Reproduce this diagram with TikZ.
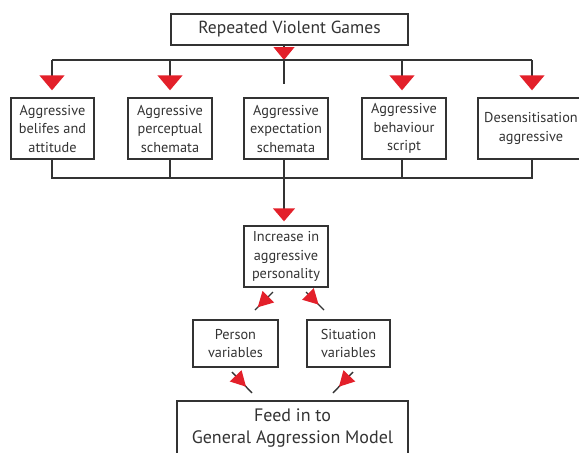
\documentclass[tikz,border=0pt]{standalone}
\usepackage{fontspec}
\setmainfont{PT Sans}
\usetikzlibrary{arrows.meta,decorations.markings,calc}
\definecolor{myred}{HTML}{E3202A}
\definecolor{ink}{HTML}{333333}
\tikzset{
  box/.style={draw=ink, line width=1.4pt, text=ink, align=center, inner sep=0pt,
    font=\fontsize{14.3}{18.5}\selectfont},
  conn/.style={draw=ink, line width=1.4pt},
  bigarr/.style={conn, -{Triangle[length=15pt,width=25pt,color=myred]}},
  smallarr/.style={conn, postaction={decorate}, decoration={markings,
    mark=at position #1 with {\arrow{Triangle[length=15pt,width=16pt,color=myred]}}}},
}
\begin{document}
\begin{tikzpicture}[x=1pt,y=-1pt]
\useasboundingbox (0,0) rectangle (579,453);
\clip (0,0) rectangle (579,453);
\node[box, minimum width=237pt, minimum height=31pt, font=\fontsize{17.5}{20}\selectfont] (top) at (289.5,29.5) {Repeated Violent Games};
\node[box, minimum width=83pt, minimum height=61pt] (b1) at (52.5,128.5) {Aggressive\\belifes and\\attitude};
\node[box, minimum width=84pt, minimum height=61pt] (b2) at (170,128.5) {Aggressive\\perceptual\\schemata};
\node[box, minimum width=84pt, minimum height=61pt] (b3) at (286,128.5) {Aggressive\\expectation\\schemata};
\node[box, minimum width=84pt, minimum height=61pt] (b4) at (404,128.5) {Aggressive\\behaviour\\script};
\node[box, minimum width=106pt, minimum height=61pt] (b5) at (531,128.5) {Desensitisation\\aggressive};
\node[box, minimum width=84pt, minimum height=61pt] (inc) at (286,256.5) {Increase in\\aggressive\\personality};
\node[box, minimum width=85pt, minimum height=47pt] (per) at (235.5,343.5) {Person\\variables};
\node[box, minimum width=83pt, minimum height=47pt] (sit) at (348.5,343.5) {Situation\\variables};
\node[box, minimum width=231pt, minimum height=54pt, font=\fontsize{18}{22}\selectfont] (feed) at (292.5,428) {Feed in to\\General Aggression Model};
% top bar
\draw[conn, -{Triangle[length=13pt,width=21pt,color=myred]}] (top.south -| 284,0) -- (284,60);
\draw[conn] (52,60) -- (532,60);
\draw[bigarr, shorten >=7pt] (52,60) -- (b1.north -| 52,0);
\draw[bigarr, shorten >=7pt] (170,60) -- (b2.north);
\draw[conn] (284,60) -- (284,84);
\draw[bigarr, shorten >=7pt] (402,60) -- (b4.north -| 402,0);
\draw[bigarr, shorten >=7pt] (532,60) -- (b5.north -| 532,0);
% bottom bar
\draw[conn] (b1.south -| 52,0) -- (52,178) -- (532,178) -- (b5.south -| 532,0);
\draw[conn] (b2.south) -- (170,178);
\draw[conn] (b4.south -| 402,0) -- (402,178);
\draw[conn, -{Triangle[length=13pt,width=22pt,color=myred]}, shorten >=4pt] (b3.south -| 284,0) -- (inc.north -| 284,0);
% small arrows
\coordinate (a1s) at (273,292); \coordinate (a1e) at (255,310);
\coordinate (a2s) at (306,292); \coordinate (a2e) at (324,310);
\coordinate (a3s) at (232,372); \coordinate (a3e) at (252,393);
\coordinate (a4s) at (353,372); \coordinate (a4e) at (333,393);
\draw[smallarr=0.85] (a1s) -- (a1e);
\draw[smallarr=0.7] (a2s) -- (a2e);
\draw[smallarr=0.7] (a3s) -- (a3e);
\draw[smallarr=0.7] (a4s) -- (a4e);
\end{tikzpicture}
\end{document}
